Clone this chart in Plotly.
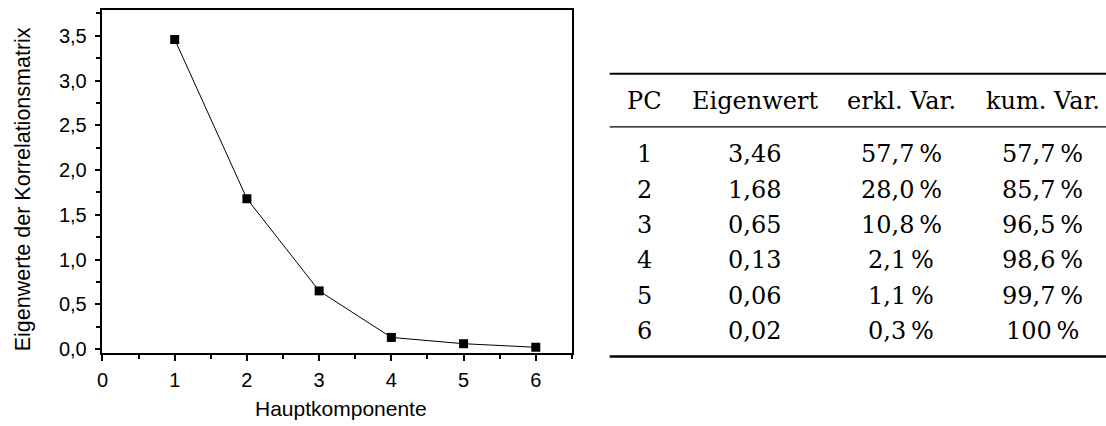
import plotly.graph_objects as go

# ---- data ----
components = [1, 2, 3, 4, 5, 6]
eigenvalues = [3.46, 1.68, 0.65, 0.13, 0.06, 0.02]
explained_var = [57.7, 28.0, 10.8, 2.1, 1.1, 0.3]
cumulative_var = [57.7, 85.7, 96.5, 98.6, 99.7, 100]
table_headers = ["PC", "Eigenwert", "erkl. Var.", "kum. Var."]
x_title = "Hauptkomponente"
y_title = "Eigenwerte der Korrelationsmatrix"

W, H = 1106, 426


def px(x):
    return x / W


def py(y):
    return 1 - y / H


def fmt(v, nd):
    return f"{v:.{nd}f}".replace(".", ",")


def pct(v):
    if v == 100:
        return "100\u2009%"
    return fmt(v, 1) + "\u2009%"


fig = go.Figure()
fig.add_trace(go.Scatter(
    x=components, y=eigenvalues, mode="lines+markers",
    line=dict(color="black", width=1),
    marker=dict(symbol="square", size=9, color="black"),
    showlegend=False,
))

axis_font = dict(family="Liberation Sans, Arial, sans-serif", size=20, color="black")
title_font = dict(family="Liberation Sans, Arial, sans-serif", size=21, color="black")
ytitle_font = dict(family="Liberation Sans, Arial, sans-serif", size=21.5, color="black")

fig.update_layout(
    width=W, height=H,
    margin=dict(l=0, r=0, t=0, b=0),
    paper_bgcolor="white", plot_bgcolor="white",
    separators=",.",
    xaxis=dict(
        domain=[px(97), px(569)], range=[0, 6.5],
        tick0=0, dtick=1, ticks="outside", ticklen=6, tickwidth=1.5, tickcolor="black",
        showline=True, linewidth=1.5, linecolor="black", mirror=True,
        showgrid=False, zeroline=False, tickfont=axis_font, ticklabelstandoff=2,
        minor=dict(ticks="outside", tick0=0, dtick=0.5, ticklen=4, tickwidth=1.5, tickcolor="black"),
    ),
    yaxis=dict(
        domain=[1 - 359 / H, 1 - 10 / H], range=[-0.045, 3.79],
        tick0=0, dtick=0.5, tickformat=".1f", ticks="outside", ticklen=6, tickwidth=1.5, tickcolor="black",
        showline=True, linewidth=1.5, linecolor="black", mirror=True,
        showgrid=False, zeroline=False, tickfont=axis_font, ticklabelstandoff=4,
        minor=dict(ticks="outside", tick0=0, dtick=0.25, ticklen=5, tickwidth=1.5, tickcolor="black"),
    ),
)

annotations = [
    dict(text=x_title, x=px(336.5), y=py(415), xref="paper", yref="paper",
         xanchor="center", yanchor="middle", showarrow=False, font=title_font),
    dict(text=y_title, x=px(17), y=py(192.5), xref="paper", yref="paper",
         xanchor="center", yanchor="middle", showarrow=False, textangle=-90, font=ytitle_font),
]

tfont = dict(family="DejaVu Serif, serif", size=24, color="black")
col_x = [641.7, 753, 900.2, 1042.5]
header_y = 102.5
row_y0, row_dy = 156.7, 36

for cx, h in zip(col_x, table_headers):
    annotations.append(dict(text=h, x=px(cx), y=py(header_y), xref="paper", yref="paper",
                            xanchor="center", yanchor="middle", showarrow=False, font=tfont))

for i, (pc, ev, ex, cu) in enumerate(zip(components, eigenvalues, explained_var, cumulative_var)):
    yy = py(row_y0 + i * row_dy)
    cells = [str(pc), fmt(ev, 2), pct(ex), pct(cu)]
    for cx, c in zip(col_x, cells):
        annotations.append(dict(text=c, x=px(cx), y=yy, xref="paper", yref="paper",
                                xanchor="center", yanchor="middle", showarrow=False, font=tfont))

fig.update_layout(annotations=annotations)

for yline, wline in [(75, 2), (129, 1.3), (362.5, 2.5)]:
    fig.add_shape(type="line", xref="paper", yref="paper",
                  x0=px(607), x1=px(1106), y0=py(yline), y1=py(yline),
                  line=dict(color="black", width=wline))

fig.write_html("out.html")
